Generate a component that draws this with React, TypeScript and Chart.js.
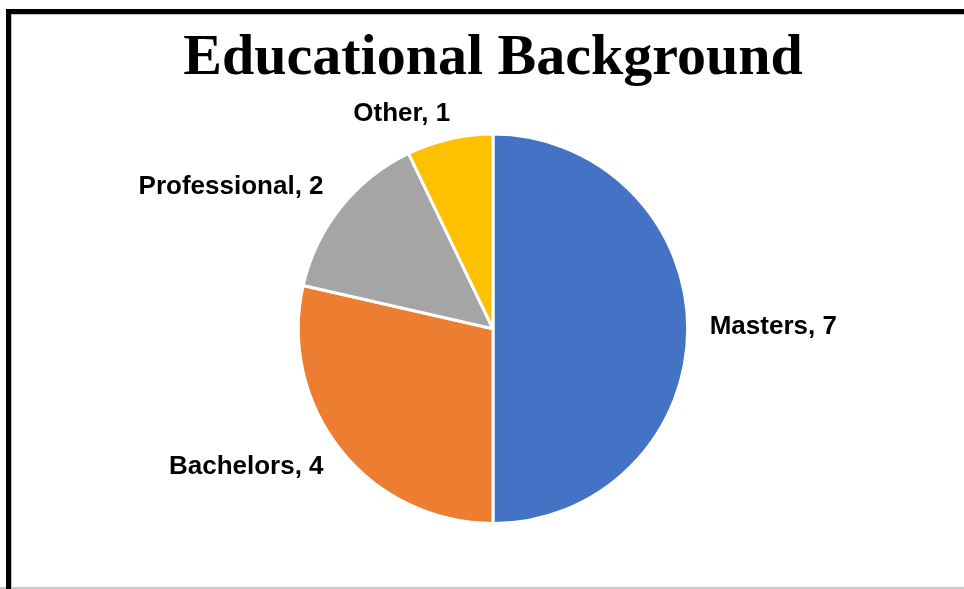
import React, { useEffect, useRef } from "react";
import { Chart, registerables } from "chart.js";

Chart.register(...registerables);

const categories = ["Masters", "Bachelors", "Professional", "Other"];
const values = [7, 4, 2, 1];
const colors = ["#4472C4", "#ED7D31", "#A5A5A5", "#FFC000"];
const titleText = "Educational Background";

const outsideLabels = {
  id: "outsideLabels",
  afterDatasetsDraw(chart: any) {
    const ctx = chart.ctx;
    const meta = chart.getDatasetMeta(0);
    ctx.save();
    ctx.font = "bold 26px 'Liberation Sans', Arial, sans-serif";
    ctx.fillStyle = "#000000";
    ctx.textBaseline = "middle";
    ctx.textAlign = "left";
    const clamp = (v: number) => Math.max(-1, Math.min(1, v));
    meta.data.forEach((arc: any, i: number) => {
      const { x, y, startAngle, endAngle, outerRadius } = arc.getProps(
        ["x", "y", "startAngle", "endAngle", "outerRadius"],
        true
      );
      const mid = (startAngle + endAngle) / 2;
      const cx = Math.cos(mid);
      const sy = Math.sin(mid);
      const px = x + (outerRadius + 22) * cx;
      const py = y + (outerRadius + 14) * sy;
      const text = `${categories[i]}, ${values[i]}`;
      const w = ctx.measureText(text).width;
      const h = 20;
      const bx = px + (w / 2) * clamp(cx * 4);
      const by = py + (h / 2) * clamp(sy * 4) - 2;
      ctx.fillText(text, bx - w / 2, by);
    });
    ctx.restore();
  },
};

export default function App() {
  const ref = useRef<HTMLCanvasElement | null>(null);

  useEffect(() => {
    if (!ref.current) return;
    const chart = new Chart(ref.current, {
      type: "pie",
      data: {
        labels: categories,
        datasets: [
          {
            data: values,
            backgroundColor: colors,
            borderColor: "#FFFFFF",
            borderWidth: 3,
          },
        ],
      },
      options: {
        responsive: false,
        animation: false,
        layout: { padding: { top: 14, bottom: 64, left: 22, right: 0 } },
        plugins: {
          legend: { display: false },
          tooltip: { enabled: false },
          title: {
            display: true,
            text: titleText,
            color: "#000000",
            font: {
              family: "'Liberation Serif', 'Times New Roman', serif",
              size: 58,
              weight: "bold",
              lineHeight: 1.2,
            },
            padding: { top: 10, bottom: 39 },
          },
        },
      },
      plugins: [outsideLabels],
    });
    return () => chart.destroy();
  }, []);

  return (
    <div
      style={{
        position: "fixed",
        left: 0,
        top: 0,
        width: 964,
        height: 589,
        background: "#FFFFFF",
        overflow: "hidden",
      }}
    >
      <div
        style={{
          position: "absolute",
          left: 6,
          top: 9,
          width: 964,
          height: 600,
          borderLeft: "5px solid #000",
          borderTop: "5px solid #000",
          boxSizing: "border-box",
        }}
      />
      <div
        style={{
          position: "absolute",
          left: 11,
          top: 14,
          width: 964,
          height: 600,
          borderLeft: "1px solid #BDBDBD",
          borderTop: "1px solid #BDBDBD",
          boxSizing: "border-box",
        }}
      />
      <div
        style={{
          position: "absolute",
          left: 0,
          top: 587,
          width: 964,
          height: 2,
          background: "#C8C8C8",
        }}
      />
      <div
        style={{
          position: "absolute",
          left: 6,
          top: 587,
          width: 5,
          height: 2,
          background: "#000",
        }}
      />
      <canvas
        ref={ref}
        width={964}
        height={589}
        style={{ position: "absolute", left: 0, top: 0, width: 964, height: 589 }}
      />
    </div>
  );
}
